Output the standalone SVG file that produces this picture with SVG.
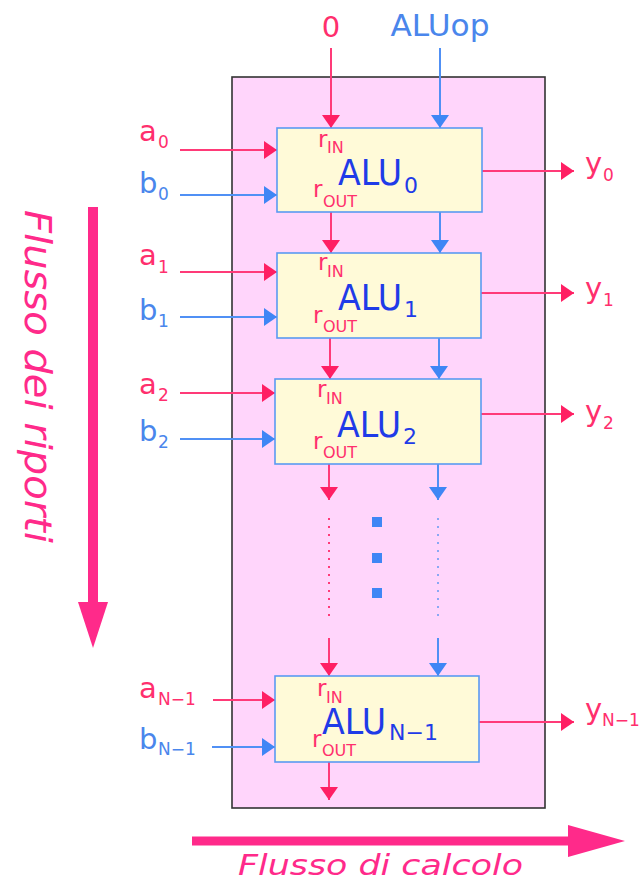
<svg xmlns="http://www.w3.org/2000/svg" width="642" height="881" viewBox="0 0 642 881">
<style>
text{font-family:"DejaVu Sans","Liberation Sans",sans-serif}
.red{fill:#ff2f6d}
.blu{fill:#4a86ec}
.alu{fill:#1f3be8;font-size:35px}
.alus{fill:#1f3be8;font-size:22px}
.r{fill:#ff2f6d;font-size:23px}
.rs{fill:#ff2f6d;font-size:16px}
.lab{font-size:29px}
.sub{font-size:17px}
.box{fill:#fffad8;stroke:#5a9af2;stroke-width:1.6}
.lr{stroke:#ff3a78;stroke-width:2;fill:none}
.lb{stroke:#5090f5;stroke-width:2;fill:none}
.flow{fill:#ff2a8a}
.flowt{fill:#ff2a8a;font-style:italic}
</style>
<defs>
<marker id="ar" markerUnits="userSpaceOnUse" markerWidth="14" markerHeight="20" refX="13" refY="10" orient="auto"><path d="M0,1 L13,10 L0,19 z" fill="#ff1f63"/></marker>
<marker id="ab" markerUnits="userSpaceOnUse" markerWidth="14" markerHeight="20" refX="13" refY="10" orient="auto"><path d="M0,1 L13,10 L0,19 z" fill="#3f86f5"/></marker>
</defs>

<rect id="frame" x="232" y="77" width="313" height="731" fill="#ffd5fb" stroke="#333" stroke-width="1.6"/>

<g id="top-labels">
<text x="331" y="37" class="red lab" text-anchor="middle">0</text>
<text x="440" y="36" class="blu" font-size="30" text-anchor="middle" textLength="99" lengthAdjust="spacingAndGlyphs">ALUop</text>
</g>

<g id="connectors">
<line class="lr" x1="331" y1="48" x2="331" y2="128" marker-end="url(#ar)"/>
<line class="lb" x1="440" y1="48" x2="440" y2="128" marker-end="url(#ab)"/>
<line class="lr" x1="331" y1="212" x2="331" y2="253" marker-end="url(#ar)"/>
<line class="lb" x1="440" y1="212" x2="440" y2="253" marker-end="url(#ab)"/>
<line class="lr" x1="330" y1="338" x2="330" y2="379" marker-end="url(#ar)"/>
<line class="lb" x1="439" y1="338" x2="439" y2="379" marker-end="url(#ab)"/>
<line class="lr" x1="329" y1="464" x2="329" y2="500" marker-end="url(#ar)"/>
<line class="lb" x1="438" y1="464" x2="438" y2="500" marker-end="url(#ab)"/>
<line x1="329" y1="518" x2="329" y2="616" stroke="#ff3a78" stroke-width="2" stroke-dasharray="2 6"/>
<line x1="438" y1="518" x2="438" y2="616" stroke="#8aa8f5" stroke-width="2" stroke-dasharray="2 6"/>
<line class="lr" x1="329" y1="638" x2="329" y2="676" marker-end="url(#ar)"/>
<line class="lb" x1="438" y1="638" x2="438" y2="676" marker-end="url(#ab)"/>
<line class="lr" x1="329" y1="762" x2="329" y2="800" marker-end="url(#ar)"/>
<line class="lr" x1="180" y1="150" x2="277" y2="150" marker-end="url(#ar)"/>
<line class="lb" x1="180" y1="195" x2="277" y2="195" marker-end="url(#ab)"/>
<line class="lr" x1="180" y1="272" x2="277" y2="272" marker-end="url(#ar)"/>
<line class="lb" x1="180" y1="317" x2="277" y2="317" marker-end="url(#ab)"/>
<line class="lr" x1="180" y1="393" x2="275" y2="393" marker-end="url(#ar)"/>
<line class="lb" x1="180" y1="439" x2="275" y2="439" marker-end="url(#ab)"/>
<line class="lr" x1="213" y1="700" x2="275" y2="700" marker-end="url(#ar)"/>
<line class="lb" x1="212" y1="747" x2="275" y2="747" marker-end="url(#ab)"/>
<line class="lr" x1="482" y1="171" x2="574" y2="171" marker-end="url(#ar)"/>
<line class="lr" x1="481" y1="293" x2="574" y2="293" marker-end="url(#ar)"/>
<line class="lr" x1="481" y1="414" x2="574" y2="414" marker-end="url(#ar)"/>
<line class="lr" x1="479" y1="722" x2="574" y2="722" marker-end="url(#ar)"/>
</g>

<g id="dots" fill="#3f86f5">
<rect x="372" y="517" width="10" height="10"/>
<rect x="372" y="553" width="10" height="10"/>
<rect x="372" y="588" width="10" height="10"/>
</g>

<g id="alu0">
<rect class="box" x="277" y="128" width="205" height="84"/>
<text x="318" y="147" class="r">r</text><text x="327" y="153" class="rs">IN</text>
<text x="338" y="185" class="alu" textLength="64" lengthAdjust="spacingAndGlyphs">ALU</text><text x="404" y="193" class="alus">0</text>
<text x="313" y="197" class="r">r</text><text x="323" y="207" class="rs" font-size="17">OUT</text>
</g>
<g id="alu1">
<rect class="box" x="277" y="253" width="204" height="85"/>
<text x="318" y="270" class="r">r</text><text x="327" y="277" class="rs">IN</text>
<text x="338" y="310" class="alu" textLength="64" lengthAdjust="spacingAndGlyphs">ALU</text><text x="404" y="317" class="alus">1</text>
<text x="313" y="323" class="r">r</text><text x="323" y="332" class="rs" font-size="17">OUT</text>
</g>
<g id="alu2">
<rect class="box" x="275" y="379" width="206" height="85"/>
<text x="317" y="397" class="r">r</text><text x="326" y="404" class="rs">IN</text>
<text x="337" y="437" class="alu" textLength="64" lengthAdjust="spacingAndGlyphs">ALU</text><text x="403" y="444" class="alus">2</text>
<text x="313" y="449" class="r">r</text><text x="323" y="458" class="rs" font-size="17">OUT</text>
</g>
<g id="aluN">
<rect class="box" x="275" y="676" width="204" height="86"/>
<text x="317" y="696" class="r">r</text><text x="326" y="703" class="rs">IN</text>
<text x="322" y="734" class="alu" textLength="64" lengthAdjust="spacingAndGlyphs">ALU</text><text x="389" y="740" class="alus">N−1</text>
<text x="312" y="747" class="r">r</text><text x="322" y="756" class="rs" font-size="17">OUT</text>
</g>

<g id="inputs">
<text x="139" y="141" class="red lab">a</text><text x="158" y="148" class="red sub">0</text>
<text x="139" y="193" class="blu lab">b</text><text x="158" y="200" class="blu sub">0</text>
<text x="139" y="265" class="red lab">a</text><text x="158" y="273" class="red sub">1</text>
<text x="139" y="320" class="blu lab">b</text><text x="158" y="327" class="blu sub">1</text>
<text x="139" y="394" class="red lab">a</text><text x="158" y="401" class="red sub">2</text>
<text x="139" y="441" class="blu lab">b</text><text x="158" y="448" class="blu sub">2</text>
<text x="139" y="698" class="red lab">a</text><text x="158" y="705" class="red sub">N−1</text>
<text x="139" y="749" class="blu lab">b</text><text x="158" y="755" class="blu sub">N−1</text>
</g>

<g id="outputs">
<text x="585" y="173" class="red lab">y</text><text x="603" y="181" class="red sub">0</text>
<text x="585" y="298" class="red lab">y</text><text x="603" y="306" class="red sub">1</text>
<text x="585" y="421" class="red lab">y</text><text x="603" y="429" class="red sub">2</text>
<text x="585" y="719" class="red lab">y</text><text x="602" y="726" class="red sub" font-size="16">N−1</text>
</g>

<g id="flow-carry">
<rect class="flow" x="88" y="207" width="10" height="397"/>
<polygon class="flow" points="78,602 108,602 93,648"/>
<text class="flowt" font-size="38" transform="translate(25,210) rotate(90)" textLength="333" lengthAdjust="spacingAndGlyphs">Flusso dei riporti</text>
</g>
<g id="flow-calc">
<rect class="flow" x="192" y="836.5" width="378" height="9"/>
<polygon class="flow" points="568,825 568,857 625,841"/>
<text class="flowt" x="238" y="875" font-size="29" textLength="285" lengthAdjust="spacingAndGlyphs">Flusso di calcolo</text>
</g>
</svg>
